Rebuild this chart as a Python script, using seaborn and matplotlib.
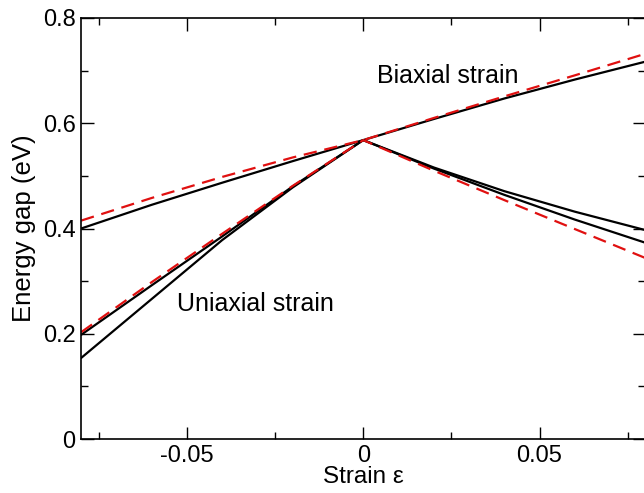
import numpy as np
import pandas as pd
import matplotlib
matplotlib.use("Agg")
import matplotlib.pyplot as plt
import seaborn as sns

strain = [-0.08, -0.06, -0.04, -0.02, 0.0, 0.02, 0.04, 0.06, 0.08]

biax_black = [0.400, 0.445, 0.487, 0.528, 0.568, 0.608, 0.647, 0.683, 0.717]
biax_red = [0.415, 0.458, 0.498, 0.535, 0.568, 0.610, 0.651, 0.691, 0.732]

uni_black1 = [0.198, 0.292, 0.385, 0.480, 0.568, 0.516, 0.471, 0.432, 0.397]
uni_black2 = [0.154, 0.266, 0.378, 0.478, 0.568, 0.514, 0.464, 0.417, 0.373]
uni_red = [0.203, 0.298, 0.390, 0.481, 0.568, 0.510, 0.454, 0.399, 0.344]

xticks = [-0.05, 0, 0.05]
xticklabels = ["-0.05", "0", "0.05"]
yticks = [0, 0.2, 0.4, 0.6, 0.8]
yticklabels = ["0", "0.2", "0.4", "0.6", "0.8"]

sns.set_style("ticks")
plt.rcParams["font.family"] = ["Liberation Sans", "DejaVu Sans"]
plt.rcParams["text.color"] = "black"
plt.rcParams["axes.labelcolor"] = "black"
plt.rcParams["xtick.color"] = "black"
plt.rcParams["ytick.color"] = "black"
plt.rcParams["axes.edgecolor"] = "black"

fig = plt.figure(figsize=(6.44, 4.93), dpi=100)
ax = fig.add_axes([0.126, 0.1095, 0.876, 0.854])

series = [
    (biax_black, "black", "-"),
    (uni_black1, "black", "-"),
    (uni_black2, "black", "-"),
    (biax_red, "#e01010", "--"),
    (uni_red, "#e01010", "--"),
]
for vals, col, ls in series:
    df = pd.DataFrame({"x": strain, "y": vals})
    sns.lineplot(data=df, x="x", y="y", ax=ax, color=col, lw=1.6,
                 sort=False, estimator=None)
    line = ax.lines[-1]
    if ls == "--":
        line.set_dashes([6, 3.5])

ax.set_xlim(-0.08, 0.08)
ax.set_ylim(0, 0.8)
ax.set_xticks(xticks)
ax.set_xticklabels(xticklabels)
ax.set_yticks(yticks)
ax.set_yticklabels(yticklabels)
ax.set_xticks([-0.075, -0.025, 0.025, 0.075], minor=True)
ax.set_yticks([0.1, 0.3, 0.5, 0.7], minor=True)
ax.tick_params(which="both", direction="in", top=True, right=True,
               labelsize=17, width=1)
ax.tick_params(which="major", length=9)
ax.tick_params(axis="x", which="major", pad=4.5)
ax.tick_params(axis="y", which="major", pad=4)
ax.tick_params(which="minor", length=5)
for s in ax.spines.values():
    s.set_linewidth(1.2)

ax.set_xlabel("Strain ε", fontsize=17.5, labelpad=-1)
ax.set_ylabel("Energy gap (eV)", fontsize=18.5, labelpad=5)

ax.text(0.0241, 0.690, "Biaxial strain", fontsize=18, ha="center", va="center")
ax.text(-0.0307, 0.257, "Uniaxial strain", fontsize=18, ha="center", va="center")

fig.savefig("out.png", dpi=100)
